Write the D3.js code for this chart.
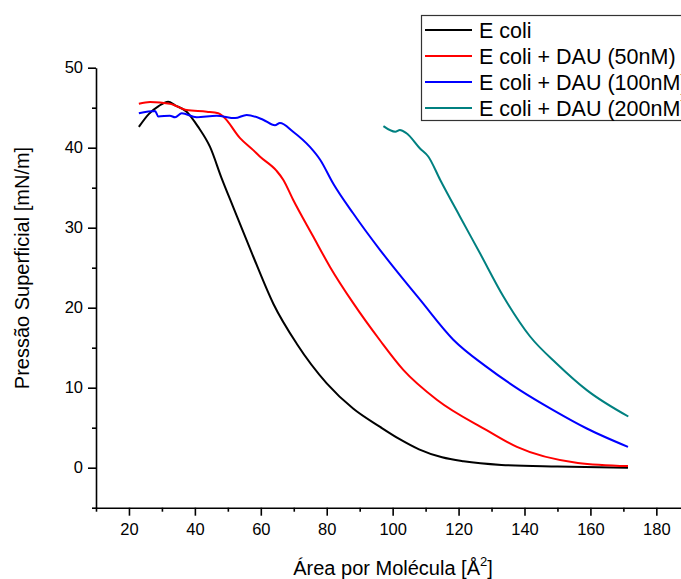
<!DOCTYPE html>
<html>
<head>
<meta charset="utf-8">
<script src="https://cdn.jsdelivr.net/npm/d3@7"></script>
<style>
  body { margin: 0; background: #fff; }
  svg { display: block; font-family: Arial, "Liberation Sans", sans-serif; }
</style>
</head>
<body>
<svg width="681" height="579"></svg>
<script>
// series data (area in Å², pressure in mN/m)
const seriesNames = ['E coli', 'E coli + DAU (50nM)', 'E coli + DAU (100nM)', 'E coli + DAU (200nM)'];
const seriesColors = ['#000000', '#ff0000', '#0000ff', '#008080'];

const ecoliX = [23, 26, 29, 31.9, 34, 37.5, 41, 44.6, 48.1, 51.6, 57.7, 63.8, 70.9, 80, 88, 96.2, 102, 108, 115, 121.5, 133, 150, 171.4];
const ecoliY = [42.6, 44.2, 45.2, 45.75, 45.3, 44.5, 42.6, 40.1, 36.2, 32.6, 26.4, 20.5, 15.5, 10.55, 7.4, 5.1, 3.6, 2.3, 1.3, 0.8, 0.35, 0.15, 0];

const dau50X = [23, 26.4, 32.4, 37.5, 43.6, 47.1, 48.6, 53.7, 57.7, 59.7, 64.8, 66.8, 69.8, 75.9, 81, 88, 96.2, 103.3, 113.4, 128.5, 137.7, 156.2, 171.4];
const dau50Y = [45.5, 45.7, 45.5, 44.7, 44.5, 44.3, 43.9, 41.2, 39.7, 38.9, 37.1, 36, 33.5, 28.9, 25.1, 20.6, 15.9, 12.2, 8.5, 4.7, 2.6, 0.6, 0.2];

const dau100X = [23, 27.9, 28.9, 32.4, 34, 36, 40.5, 46.6, 52.2, 55.7, 60.7, 64.3, 65.8, 69.8, 74.9, 78, 82, 88, 96.2, 100.2, 108.3, 118.4, 128.5, 138.6, 148.7, 158.9, 171.4];
const dau100Y = [44.3, 44.6, 43.9, 44, 43.8, 44.3, 43.8, 44, 43.7, 44.1, 43.5, 42.8, 43.1, 42, 40.1, 38.5, 35.5, 31.8, 27.2, 25.1, 21, 16, 12.6, 9.7, 7.2, 4.9, 2.6];

const dau200X = [97.2, 100.8, 102.2, 104.2, 108.3, 110.8, 114.4, 120.4, 126.5, 133.6, 141.7, 149.8, 158.9, 171.5];
const dau200Y = [42.7, 42, 42.2, 41.8, 39.9, 38.9, 36, 31.4, 26.8, 21.4, 16.4, 13, 9.7, 6.4];

const xTicks = [20, 40, 60, 80, 100, 120, 140, 160, 180];
const xMinorTicks = [10, 30, 50, 70, 90, 110, 130, 150, 170, 190];
const yTicks = [0, 10, 20, 30, 40, 50];
const yMinorTicks = [-5, 5, 15, 25, 35, 45];

const svg = d3.select('svg');

const x = d3.scaleLinear().domain([10, 190]).range([96, 689.3]);
const y = d3.scaleLinear().domain([-5, 50]).range([507.7, 67.7]);

const series = [
  { x: ecoliX, y: ecoliY },
  { x: dau50X, y: dau50Y },
  { x: dau100X, y: dau100Y },
  { x: dau200X, y: dau200Y }
];

// axes
svg.append('g')
  .attr('transform', `translate(0,${y(-5)})`)
  .call(d3.axisBottom(x).tickValues(xTicks).tickSize(8).tickSizeOuter(0).tickPadding(8));
svg.append('g')
  .attr('transform', `translate(0,${y(-5)})`)
  .call(d3.axisBottom(x).tickValues(xMinorTicks).tickSize(4).tickSizeOuter(0).tickFormat(''))
  .select('.domain').remove();

svg.append('g')
  .attr('transform', `translate(${x(10)},0)`)
  .call(d3.axisLeft(y).tickValues(yTicks).tickSize(8).tickSizeOuter(0).tickPadding(5));
svg.append('g')
  .attr('transform', `translate(${x(10)},0)`)
  .call(d3.axisLeft(y).tickValues(yMinorTicks).tickSize(4).tickSizeOuter(0).tickFormat(''))
  .select('.domain').remove();

svg.selectAll('.domain, .tick line').attr('stroke', '#000').attr('stroke-width', 1.6);
svg.selectAll('.tick text').attr('font-size', 16.5).attr('fill', '#000')
  .attr('font-family', 'Arial, "Liberation Sans", sans-serif');

// curves
const line = d3.line()
  .x(d => x(d[0]))
  .y(d => y(d[1]))
  .curve(d3.curveMonotoneX);

series.forEach((s, i) => {
  svg.append('path')
    .datum(s.x.map((v, j) => [v, s.y[j]]))
    .attr('d', line)
    .attr('fill', 'none')
    .attr('stroke', seriesColors[i])
    .attr('stroke-width', 2)
    .attr('stroke-linejoin', 'round');
});

// axis titles
const xTitle = svg.append('text')
  .attr('x', 393).attr('y', 575)
  .attr('text-anchor', 'middle')
  .attr('font-size', 20)
  .text('Área por Molécula [Å');
xTitle.append('tspan').attr('dy', -9).attr('font-size', 13).text('2');
xTitle.append('tspan').attr('dy', 9).text(']');

svg.append('text')
  .attr('transform', 'translate(29,268) rotate(-90)')
  .attr('text-anchor', 'middle')
  .attr('font-size', 20)
  .text('Pressão Superficial [mN/m]');

// legend (runs off the right edge, as in the original)
const legend = svg.append('g');
legend.append('rect')
  .attr('x', 421.5).attr('y', 15.5)
  .attr('width', 300).attr('height', 105)
  .attr('fill', '#fff')
  .attr('stroke', '#333').attr('stroke-width', 1.2);

seriesNames.forEach((name, i) => {
  const ly = 30 + i * 26;
  legend.append('line')
    .attr('x1', 425).attr('x2', 472)
    .attr('y1', ly).attr('y2', ly)
    .attr('stroke', seriesColors[i]).attr('stroke-width', 2);
  legend.append('text')
    .attr('x', 479).attr('y', ly)
    .attr('dy', '0.35em')
    .attr('font-size', 21.5)
    .text(name);
});
</script>
</body>
</html>
